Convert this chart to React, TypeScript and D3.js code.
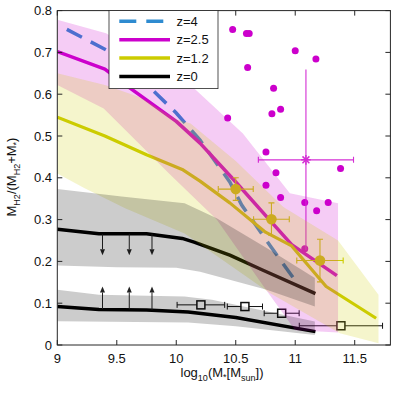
import React from "react";
import * as d3 from "d3";

// ---------- data ----------
const legendLabels = ["z=4", "z=2.5", "z=1.2", "z=0"];
const xTicks = [9, 9.5, 10, 10.5, 11, 11.5];
const yTicks = [0, 0.1, 0.2, 0.3, 0.4, 0.5, 0.6, 0.7, 0.8];

// z=4 dashed median
const z4X = [9.08, 9.45, 9.8, 10.0, 10.2, 10.45, 10.55, 10.8, 10.98];
const z4Y = [0.755, 0.7, 0.61, 0.555, 0.49, 0.39, 0.335, 0.233, 0.162];

// z=2.5 median + band
const z25X = [9.0, 9.4, 9.6, 10.0, 10.2, 10.5, 10.75, 10.97, 11.35];
const z25Y = [0.702, 0.66, 0.617, 0.535, 0.483, 0.39, 0.31, 0.24, 0.166];
const z25HiX = [9.0, 9.41, 10.12, 10.56, 10.955, 11.36];
const z25HiY = [0.778, 0.746, 0.622, 0.506, 0.363, 0.339];
const z25LoX = [9.0, 9.39, 9.95, 10.34, 10.76, 11.0, 11.36];
const z25LoY = [0.622, 0.566, 0.407, 0.3, 0.13, 0.035, 0.03];

// z=1.2 median + band
const z12X = [9.0, 9.4, 9.75, 10.05, 10.2, 10.45, 10.75, 10.97, 11.26, 11.68];
const z12Y = [0.545, 0.5, 0.455, 0.42, 0.392, 0.34, 0.27, 0.237, 0.14, 0.064];
const z12HiX = [9.0, 9.4, 9.7, 10.0, 10.12, 10.5, 10.9, 11.36, 11.7];
const z12HiY = [0.65, 0.622, 0.592, 0.54, 0.53, 0.44, 0.33, 0.25, 0.12];
const z12LoX = [9.0, 9.23, 9.57, 10.07, 10.79, 11.375, 11.7];
const z12LoY = [0.41, 0.375, 0.327, 0.267, 0.124, 0.028, 0.004];

// z=0 upper median + band
const z0UX = [9.0, 9.35, 9.75, 10.05, 10.15, 10.45, 10.72, 11.17];
const z0UY = [0.277, 0.266, 0.266, 0.255, 0.246, 0.215, 0.18, 0.123];
const z0UHiX = [9.0, 9.54, 10.07, 10.34, 10.76, 11.165];
const z0UHiY = [0.373, 0.355, 0.339, 0.303, 0.232, 0.16];
const z0ULoX = [9.0, 9.5, 10.0, 10.2, 10.76, 11.165];
const z0ULoY = [0.19, 0.186, 0.185, 0.175, 0.132, 0.092];

// z=0 lower median + band
const z0LX = [9.0, 9.35, 9.75, 10.1, 10.5, 11.17];
const z0LY = [0.092, 0.085, 0.084, 0.079, 0.066, 0.032];
const z0LHiX = [9.0, 9.35, 10.07, 10.3, 11.165];
const z0LHiY = [0.132, 0.12, 0.116, 0.108, 0.056];
const z0LLoX = [9.0, 10.1, 10.5, 11.165];
const z0LLoY = [0.057, 0.054, 0.045, 0.024];

// upper / lower limit arrows
const arrowX = [9.38, 9.605, 9.796];
const downFrom = [0.265, 0.266, 0.266];
const downTo = [0.215, 0.215, 0.215];
const upFrom = [0.086, 0.085, 0.084];
const upTo = [0.14, 0.14, 0.14];

// magenta observations
const dotX = [10.474, 10.59, 10.613, 11.0, 11.174, 10.6, 10.818, 10.877, 10.804, 10.432, 10.754, 10.838, 11.381, 10.754, 10.877, 11.08, 11.18, 11.277, 11.08];
const dotY = [0.755, 0.745, 0.745, 0.704, 0.684, 0.664, 0.614, 0.564, 0.553, 0.543, 0.462, 0.412, 0.422, 0.382, 0.353, 0.341, 0.321, 0.341, 0.23];

// magenta star with error bars
const starX = [11.09];
const starY = [0.443];
const starXErr = [0.4];
const starYErr = [0.216];

// yellow circles with error bars
const circX = [10.5, 10.8, 11.208];
const circY = [0.373, 0.301, 0.202];
const circXErr = [0.147, 0.15, 0.195];
const circYErr = [0.027, 0.039, 0.051];

// open squares with x error bars
const sqX = [10.207, 10.577, 10.886, 11.384];
const sqY = [0.096, 0.092, 0.076, 0.046];
const sqXErr = [0.2, 0.148, 0.147, 0.35];

// ---------- chart ----------
const W = 394;
const H = 394;
const FONT = "'Liberation Sans', Arial, Helvetica, sans-serif";
const MAG = "#cc00cc";
const YEL = "#cccc00";
const BLU = "#2e8bd0";
const AX = "#262626";

export default function App() {
  const x = d3.scaleLinear().domain([9, 11.8]).range([57.3, 390.4]);
  const y = d3.scaleLinear().domain([0, 0.8]).range([345, 10.6]);
  const [x0, x1] = x.range();
  const [y0, y1] = y.range();

  const line = d3.line<[number, number]>().x((d) => x(d[0])).y((d) => y(d[1]));
  const pts = (xs: number[], ys: number[]) => xs.map((v, i) => [v, ys[i]] as [number, number]);
  const band = (hx: number[], hy: number[], lx: number[], ly: number[]) =>
    (line([...pts(hx, hy), ...pts(lx, ly).reverse()]) || "") + "Z";

  const arrow = (xv: number, from: number, to: number, key: string) => {
    const px = x(xv);
    const py0 = y(from);
    const py1 = y(to);
    const dir = py1 > py0 ? 1 : -1;
    const hl = 6;
    const hw = 2.5;
    return (
      <g key={key}>
        <line x1={px} y1={py0} x2={px} y2={py1 - dir * hl} stroke="#222" strokeWidth={1} />
        <path d={`M${px},${py1} L${px - hw},${py1 - dir * hl} L${px + hw},${py1 - dir * hl} Z`} fill="#222" />
      </g>
    );
  };

  const cap = 3;

  return (
    <svg width={W} height={H} style={{ position: "absolute", left: 0, top: 0, background: "#fff" }} fontFamily={FONT}>
      <rect x={0} y={0} width={W} height={H} fill="#fff" />
      <defs>
        <clipPath id="plotclip">
          <rect x={x0} y={y1} width={x1 - x0} height={y0 - y1} />
        </clipPath>
      </defs>
      <g clipPath="url(#plotclip)">
        {/* median lines */}
        <path d={line(pts(z4X, z4Y)) || ""} fill="none" stroke={BLU} strokeWidth={3.5} strokeDasharray="17,10" />
        <path d={line(pts(z25X, z25Y)) || ""} fill="none" stroke={MAG} strokeWidth={3.5} strokeLinejoin="round" />
        <path d={line(pts(z12X, z12Y)) || ""} fill="none" stroke={YEL} strokeWidth={3.2} strokeLinejoin="round" />
        <path d={line(pts(z0UX, z0UY)) || ""} fill="none" stroke="#000" strokeWidth={3.5} strokeLinejoin="round" />
        <path d={line(pts(z0LX, z0LY)) || ""} fill="none" stroke="#000" strokeWidth={3.5} strokeLinejoin="round" />

        {/* arrows */}
        {arrowX.map((v, i) => arrow(v, downFrom[i], downTo[i], "d" + i))}
        {arrowX.map((v, i) => arrow(v, upFrom[i], upTo[i], "u" + i))}

        {/* magenta dots */}
        {dotX.map((v, i) => (
          <circle key={"m" + i} cx={x(v)} cy={y(dotY[i])} r={3.5} fill={MAG} />
        ))}

        {/* star */}
        {starX.map((v, i) => {
          const cx = x(v);
          const cy = y(starY[i]);
          const xl = x(v - starXErr[i]);
          const xr = x(v + starXErr[i]);
          const yt = y(starY[i] + starYErr[i]);
          const yb = y(starY[i] - starYErr[i]);
          const s = 4.8;
          const d = s * 0.72;
          const c = "#d42fd4";
          return (
            <g key={"s" + i} stroke={c} strokeWidth={1.1} fill="none">
              <line x1={xl} y1={cy} x2={xr} y2={cy} />
              <line x1={xl} y1={cy - cap} x2={xl} y2={cy + cap} />
              <line x1={xr} y1={cy - cap} x2={xr} y2={cy + cap} />
              <line x1={cx} y1={yt} x2={cx} y2={yb} />
              <line x1={cx - s} y1={cy} x2={cx + s} y2={cy} strokeWidth={1.5} />
              <line x1={cx} y1={cy - s} x2={cx} y2={cy + s} strokeWidth={1.5} />
              <line x1={cx - d} y1={cy - d} x2={cx + d} y2={cy + d} strokeWidth={1.5} />
              <line x1={cx - d} y1={cy + d} x2={cx + d} y2={cy - d} strokeWidth={1.5} />
            </g>
          );
        })}

        {/* yellow circles */}
        {circX.map((v, i) => {
          const cx = x(v);
          const cy = y(circY[i]);
          const xl = x(v - circXErr[i]);
          const xr = x(v + circXErr[i]);
          const yt = y(circY[i] + circYErr[i]);
          const yb = y(circY[i] - circYErr[i]);
          return (
            <g key={"c" + i} stroke={YEL} strokeWidth={1.1}>
              <line x1={xl} y1={cy} x2={xr} y2={cy} />
              <line x1={xl} y1={cy - cap} x2={xl} y2={cy + cap} />
              <line x1={xr} y1={cy - cap} x2={xr} y2={cy + cap} />
              <line x1={cx} y1={yt} x2={cx} y2={yb} />
              <line x1={cx - cap} y1={yt} x2={cx + cap} y2={yt} />
              <line x1={cx - cap} y1={yb} x2={cx + cap} y2={yb} />
              <circle cx={cx} cy={cy} r={5.3} fill={YEL} stroke="none" />
            </g>
          );
        })}

        {/* squares */}
        {sqX.map((v, i) => {
          const cx = x(v);
          const cy = y(sqY[i]);
          const xl = x(v - sqXErr[i]);
          const xr = x(v + sqXErr[i]);
          const h = 4;
          return (
            <g key={"q" + i} stroke="#111" fill="none">
              <line x1={xl} y1={cy} x2={cx - h} y2={cy} strokeWidth={1} />
              <line x1={cx + h} y1={cy} x2={xr} y2={cy} strokeWidth={1} />
              <line x1={xl} y1={cy - cap} x2={xl} y2={cy + cap} strokeWidth={1} />
              <line x1={xr} y1={cy - cap} x2={xr} y2={cy + cap} strokeWidth={1} />
              <rect x={cx - h} y={cy - h} width={2 * h} height={2 * h} strokeWidth={1.5} />
            </g>
          );
        })}

        {/* translucent bands drawn on top */}
        <path d={band(z25HiX, z25HiY, z25LoX, z25LoY)} fill={MAG} fillOpacity={0.2} />
        <path d={band(z12HiX, z12HiY, z12LoX, z12LoY)} fill={YEL} fillOpacity={0.2} />
        <path d={band(z0UHiX, z0UHiY, z0ULoX, z0ULoY)} fill="#000" fillOpacity={0.2} />
        <path d={band(z0LHiX, z0LHiY, z0LLoX, z0LLoY)} fill="#000" fillOpacity={0.2} />
      </g>

      {/* frame and ticks */}
      <rect x={x0} y={y1} width={x1 - x0} height={y0 - y1} fill="none" stroke={AX} strokeWidth={1} />
      {xTicks.map((t) => (
        <g key={"xt" + t} stroke={AX} strokeWidth={1}>
          <line x1={x(t)} y1={y0} x2={x(t)} y2={y0 - 5} />
          <line x1={x(t)} y1={y1} x2={x(t)} y2={y1 + 5} />
        </g>
      ))}
      {yTicks.map((t) => (
        <g key={"yt" + t} stroke={AX} strokeWidth={1}>
          <line x1={x0} y1={y(t)} x2={x0 + 5} y2={y(t)} />
          <line x1={x1} y1={y(t)} x2={x1 - 5} y2={y(t)} />
        </g>
      ))}
      {xTicks.map((t) => (
        <text key={"xl" + t} x={x(t)} y={363} textAnchor="middle" fontSize={13} fill="#111">
          {String(t)}
        </text>
      ))}
      {yTicks.map((t) => (
        <text key={"yl" + t} x={52} y={y(t) + 4.6} textAnchor="end" fontSize={13} fill="#111">
          {t === 0 ? "0" : t.toFixed(1)}
        </text>
      ))}

      {/* axis labels */}
      <text x={222} y={377} textAnchor="middle" fontSize={13} fill="#111">
        <tspan>log</tspan>
        <tspan fontSize={9} dy={4}>10</tspan>
        <tspan dy={-4}>(M</tspan>
        <tspan fontSize={9} dy={3}>*</tspan>
        <tspan dy={-3}>[M</tspan>
        <tspan fontSize={9} dy={4}>sun</tspan>
        <tspan dy={-4}>])</tspan>
      </text>
      <text transform="translate(15.5,177) rotate(-90)" textAnchor="middle" fontSize={13} fill="#111">
        <tspan>M</tspan>
        <tspan fontSize={9} dy={4}>H2</tspan>
        <tspan dy={-4}>/(M</tspan>
        <tspan fontSize={9} dy={4}>H2</tspan>
        <tspan dy={-4}>+M</tspan>
        <tspan fontSize={9} dy={3}>*</tspan>
        <tspan dy={-3}>)</tspan>
      </text>

      {/* legend */}
      <g>
        <rect x={109} y={y1} width={109} height={78} fill="#fff" stroke={AX} strokeWidth={0.8} />
        {legendLabels.map((lab, i) => {
          const ly = 21.3 + i * 18.4;
          const col = [BLU, MAG, YEL, "#000"][i];
          return (
            <g key={"lg" + i}>
              <line x1={119.3} y1={ly} x2={170} y2={ly} stroke={col} strokeWidth={3.5} strokeDasharray={i === 0 ? "17,10" : undefined} />
              <text x={176.5} y={ly + 4.6} fontSize={13} fill="#111">
                {lab}
              </text>
            </g>
          );
        })}
      </g>
    </svg>
  );
}
